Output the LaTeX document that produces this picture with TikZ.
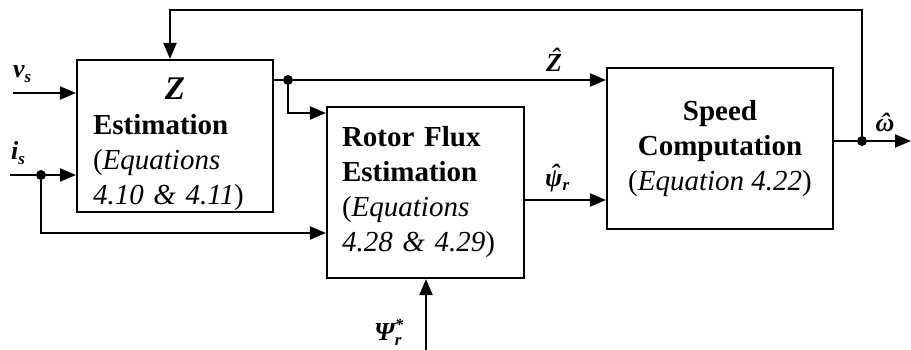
\documentclass[tikz,border=0pt]{standalone}
\usepackage{fontspec}
\setmainfont{Liberation Serif}
\usetikzlibrary{arrows.meta}
\newcommand\hatacc[1]{\accent"02C6 #1}
\newcommand\sublbl[1]{\raisebox{-5pt}{\fontsize{17}{17}\selectfont #1}}
\tikzset{
  blk/.style={draw, line width=2.2pt, inner sep=0pt, font=\fontsize{29}{35}\selectfont},
  con/.style={line width=2.2pt, -{Triangle[length=16pt,width=13pt]}},
  ln/.style={line width=2.2pt},
  dotc/.style={circle, fill, inner sep=0pt, minimum size=10pt},
  lbl/.style={inner sep=0pt, font=\fontsize{26}{28}\selectfont\bfseries\itshape},
}
\begin{document}
\begin{tikzpicture}[x=1pt,y=-1pt]
\useasboundingbox (0,0) rectangle (911,350);
% blocks
\node[blk, minimum width=196pt, minimum height=152pt, text width=164pt, align=left] (zb) at (175,136)
  {\null\hfill\rule{0pt}{38pt}{\fontsize{33}{35}\selectfont\textbf{\textit{Z}}}\hfill\null\\ \textbf{Estimation}\\ (\textit{Equations}\\ \textit{4.10 \& 4.11})};
\node[blk, minimum width=197pt, minimum height=171pt, text width=167pt, align=left] (rb) at (425.5,192.5)
  {\textbf{Rotor Flux}\\ \textbf{Estimation}\\ (\textit{Equations}\\ \textit{4.28 \& 4.29})};
\node[blk, minimum width=226pt, minimum height=161pt, align=center] (sb) at (720,148.5)
  {\textbf{Speed}\\ \textbf{Computation}\\ (\textit{Equation 4.22})};
% free ends
\coordinate (vin) at (13,93);
\coordinate (iin) at (10,175);
\coordinate (psin) at (426,350);
\coordinate (wout) at (911,141);
\coordinate (fbtop) at (170,10);
% junctions
\node[dotc] (idot) at (41,175) {};
\node[dotc] (zdot) at (288,80) {};
\node[dotc] (wdot) at (862,141) {};
\coordinate (idn) at (41,233);
\coordinate (zdn) at (288,113);
% connectors
\draw[con] (vin) -- (vin -| zb.west);
\draw[ln] (iin) -- (idot);
\draw[con] (idot) -- (idot -| zb.west);
\draw[con] (idot) -- (idn) -- (idn -| rb.west);
\draw[ln] (zdot -| zb.east) -- (zdot);
\draw[con] (zdot) -- (zdot -| sb.west);
\draw[con] (zdot) -- (zdn) -- (zdn -| rb.west);
\draw[con] (rb.east |- 0,200) -- (sb.west |- 0,200);
\draw[con] (psin) -- (psin |- rb.south);
\draw[ln] (sb.east |- wdot) -- (wdot);
\draw[con] (wdot) -- (wout);
\draw[con] (wdot) -- (wdot |- fbtop) -- (fbtop) -- (fbtop |- zb.north);
% labels
\node[lbl, anchor=base west] (lv) at (13,78) {v\sublbl{s}};
\node[lbl, anchor=base west] (li) at (11,160) {i\sublbl{s}};
\node[lbl, anchor=base] (lz) at (554,72) {\hatacc{Z}};
\node[lbl, anchor=base west] (lp) at (545,186) {\hatacc{ψ}\sublbl{r}};
\node[lbl, anchor=base] (lw) at (885,132) {\hatacc{ω}};
\node[lbl, anchor=base west] (lps) at (374,340) {Ψ\rlap{\raisebox{10pt}{\fontsize{17}{17}\selectfont *}}\sublbl{r}};
\end{tikzpicture}
\end{document}
